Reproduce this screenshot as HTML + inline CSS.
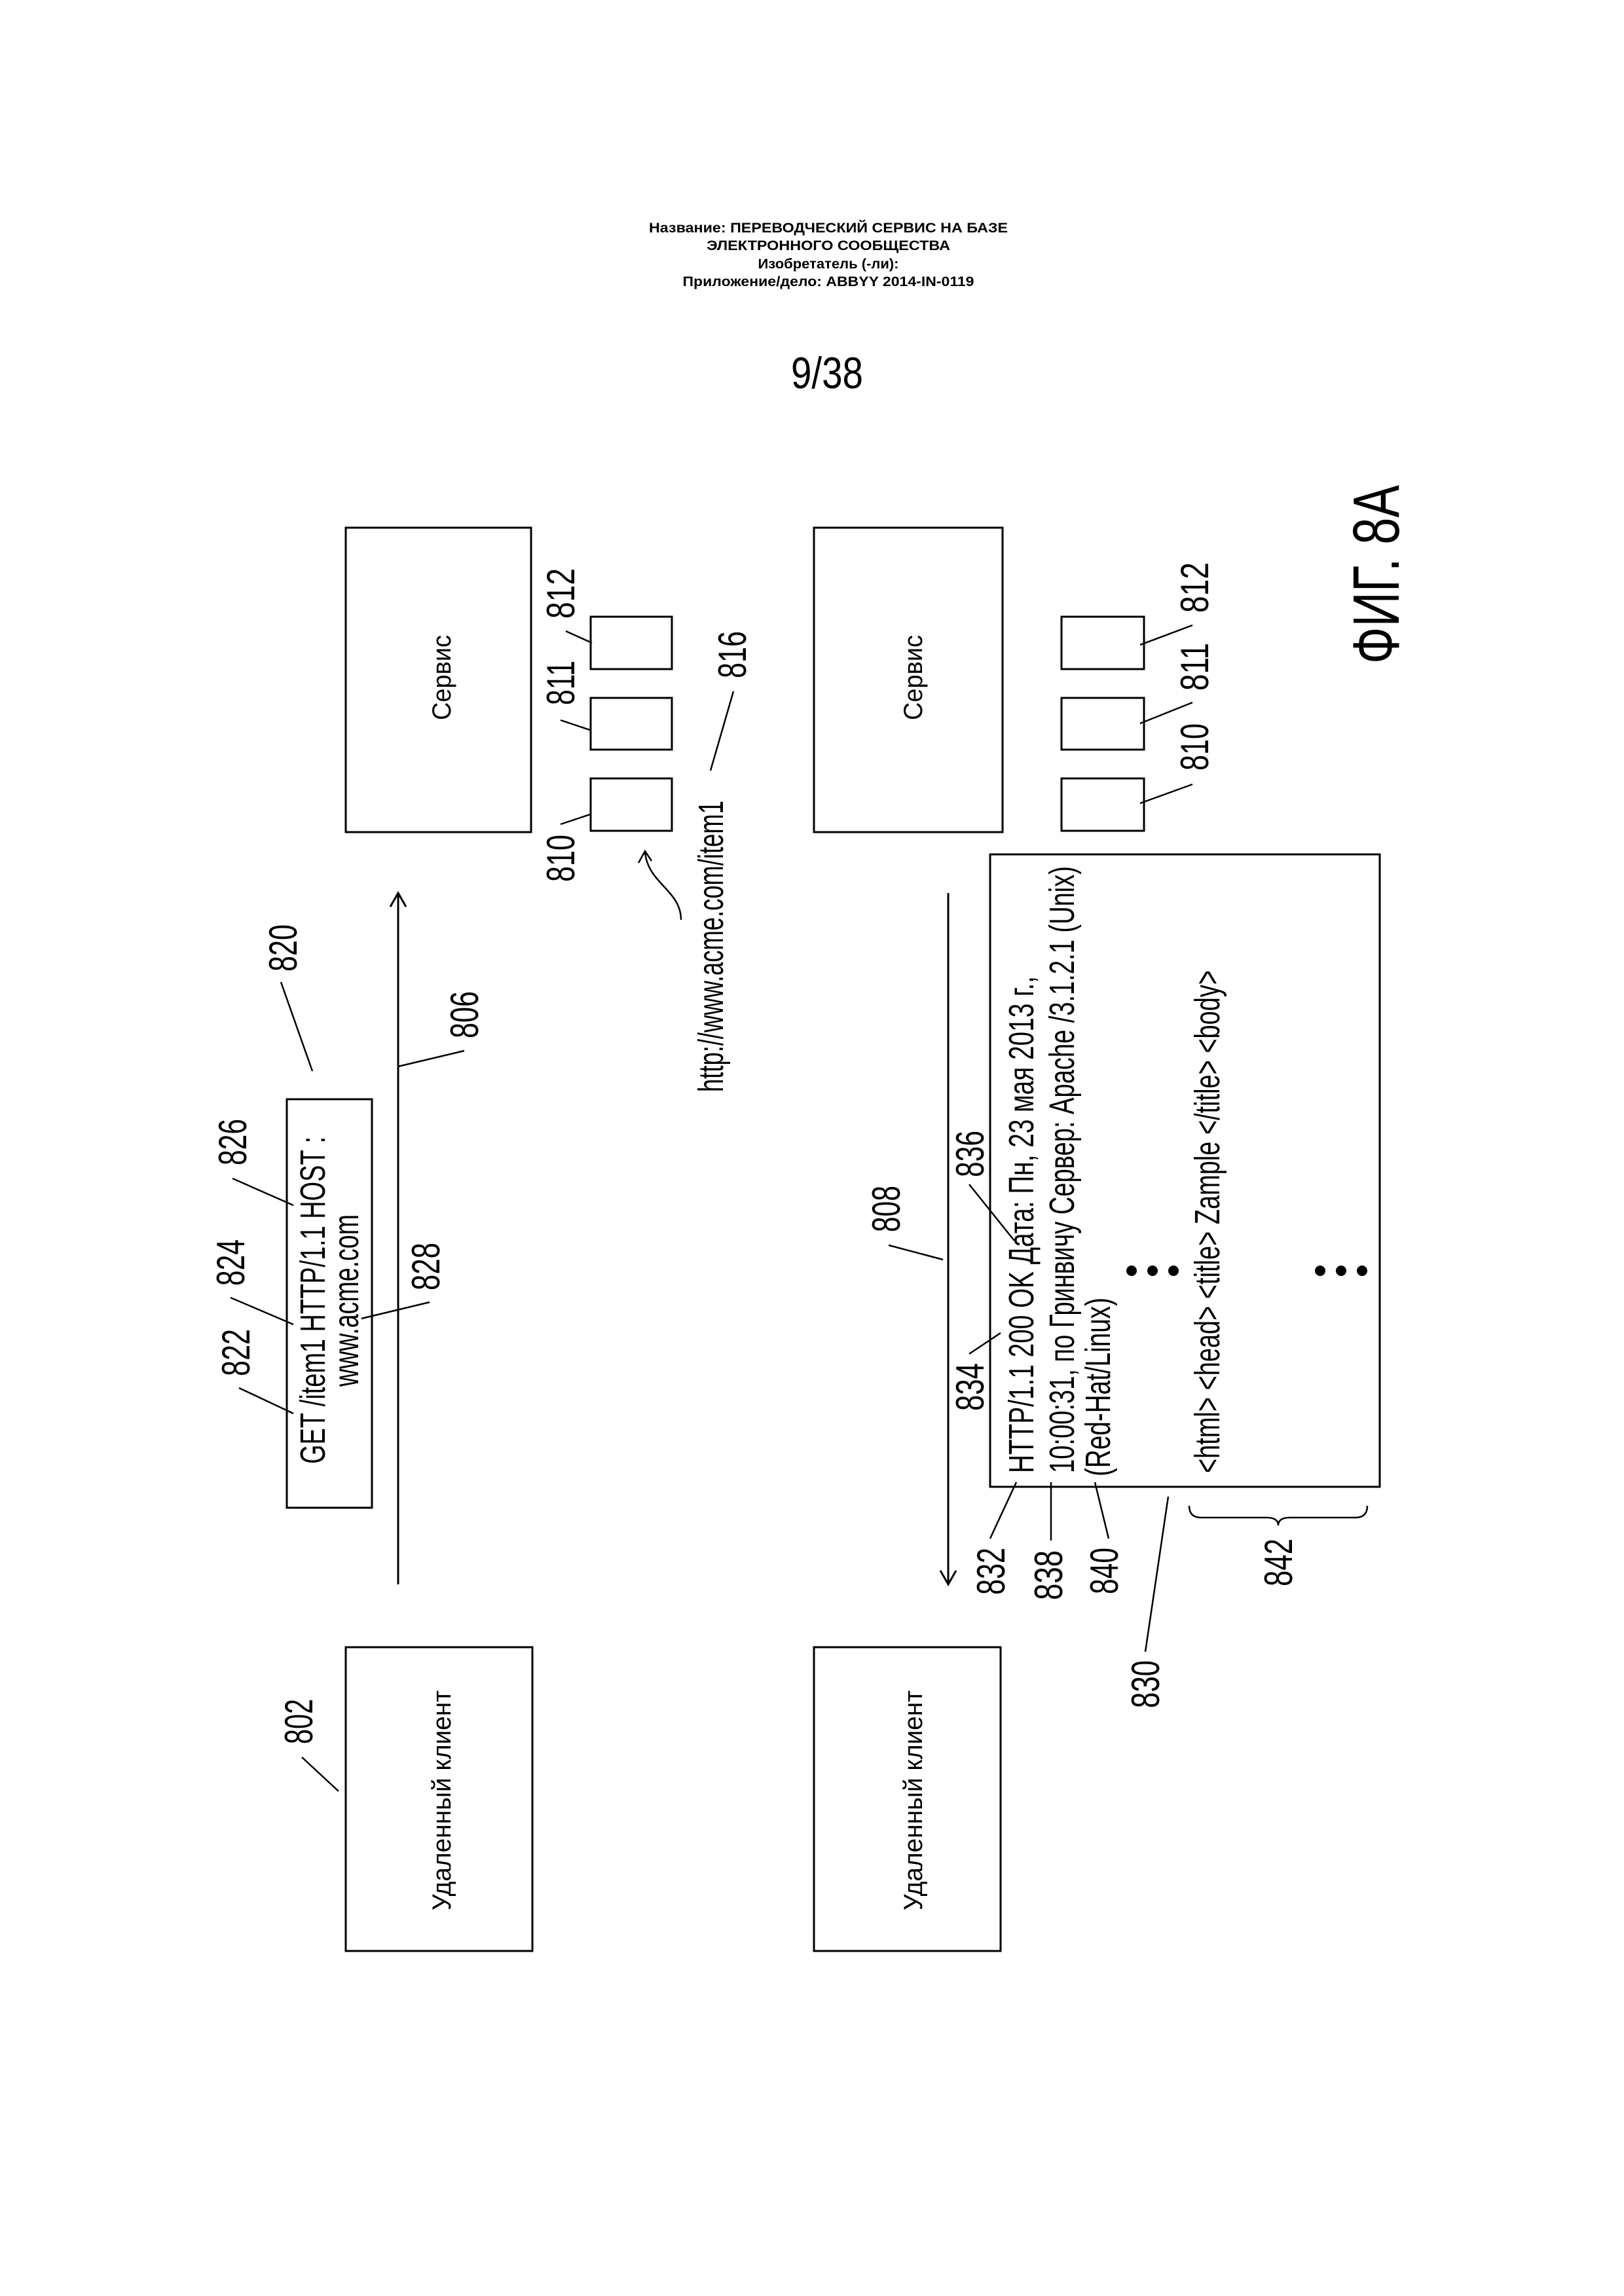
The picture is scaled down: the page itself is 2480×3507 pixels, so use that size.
<!DOCTYPE html>
<html><head><meta charset="utf-8"><style>html,body{margin:0;padding:0;background:#fff}svg{display:block}</style></head>
<body>
<svg width="2480" height="3507" viewBox="0 0 2480 3507" xmlns="http://www.w3.org/2000/svg" font-family="Liberation Sans, DejaVu Sans, sans-serif" fill="#000">
<g text-anchor="middle" font-weight="bold" font-size="21">
<text x="1265" y="355" textLength="548" lengthAdjust="spacingAndGlyphs">Название: ПЕРЕВОДЧЕСКИЙ СЕРВИС НА БАЗЕ</text>
<text x="1265" y="382" textLength="372" lengthAdjust="spacingAndGlyphs">ЭЛЕКТРОННОГО СООБЩЕСТВА</text>
<text x="1265" y="410" textLength="215" lengthAdjust="spacingAndGlyphs">Изобретатель (-ли):</text>
<text x="1265" y="437" textLength="445" lengthAdjust="spacingAndGlyphs">Приложение/дело: ABBYY 2014-IN-0119</text>
</g>
<text x="1263" y="593" text-anchor="middle" font-size="68" textLength="110" lengthAdjust="spacingAndGlyphs">9/38</text>

<g fill="none" stroke="#000" stroke-width="3">
<rect x="528" y="806" width="283" height="465"/>
<rect x="1243" y="806" width="288" height="465"/>
<rect x="902" y="942" width="124" height="80"/>
<rect x="902" y="1066" width="124" height="79"/>
<rect x="902" y="1189" width="124" height="80"/>
<rect x="1621" y="942" width="126" height="80"/>
<rect x="1621" y="1066" width="126" height="79"/>
<rect x="1621" y="1189" width="126" height="80"/>
<rect x="1512" y="1305" width="595" height="966"/>
<rect x="438" y="1679" width="130" height="624"/>
<rect x="528" y="2516" width="285" height="464"/>
<rect x="1243" y="2516" width="285" height="464"/>
<line x1="608" y1="1366" x2="608" y2="2420"/>
<path d="M596 1385 L608 1364 L620 1385"/>
<line x1="1448" y1="1364" x2="1448" y2="2418"/>
<path d="M1436 2399 L1448 2420 L1460 2399"/>
</g>
<g fill="none" stroke="#000" stroke-width="2.5">
<line x1="864" y1="964" x2="904" y2="982"/>
<line x1="856" y1="1100" x2="901" y2="1115"/>
<line x1="856" y1="1259" x2="901" y2="1244"/>
<line x1="1120" y1="1056" x2="1085" y2="1177"/>
<path d="M1040 1405 C1040 1360 990 1350 985 1302"/>
<path d="M975 1318 L985 1300 L995 1315"/>
<line x1="1821" y1="955" x2="1741" y2="985"/>
<line x1="1821" y1="1073" x2="1741" y2="1105"/>
<line x1="1821" y1="1198" x2="1741" y2="1227"/>
<line x1="429" y1="1500" x2="477" y2="1636"/>
<line x1="709" y1="1605" x2="608" y2="1629"/>
<line x1="355" y1="1800" x2="448" y2="1841"/>
<line x1="352" y1="1982" x2="448" y2="2023"/>
<line x1="365" y1="2120" x2="448" y2="2159"/>
<line x1="656" y1="1989" x2="552" y2="2014"/>
<line x1="1480" y1="2068" x2="1528" y2="2036"/>
<line x1="1480" y1="1809" x2="1549" y2="1895"/>
<line x1="1357" y1="1902" x2="1440" y2="1924"/>
<line x1="1512" y1="2350" x2="1552" y2="2264"/>
<line x1="1605" y1="2353" x2="1605" y2="2264"/>
<line x1="1693" y1="2350" x2="1672" y2="2264"/>
<line x1="1749" y1="2523" x2="1784" y2="2286"/>
<line x1="461" y1="2684" x2="517" y2="2736"/>
<path d="M1816 2300 Q1816 2318 1834 2318 L1934 2318 Q1952 2318 1952 2330 Q1952 2318 1970 2318 L2070 2318 Q2088 2318 2088 2300"/>
</g>
<g>
<circle cx="1728" cy="1941" r="8"/><circle cx="1760" cy="1941" r="8"/><circle cx="1792" cy="1941" r="8"/>
<circle cx="2016" cy="1941" r="8"/><circle cx="2048" cy="1941" r="8"/><circle cx="2080" cy="1941" r="8"/>
</g>

<g font-size="40">
<text transform="translate(688,1100) rotate(-90)" textLength="130" lengthAdjust="spacingAndGlyphs">Сервис</text>
<text transform="translate(1408,1100) rotate(-90)" textLength="130" lengthAdjust="spacingAndGlyphs">Сервис</text>
<text transform="translate(688,2918) rotate(-90)" textLength="336" lengthAdjust="spacingAndGlyphs">Удаленный клиент</text>
<text transform="translate(1408,2918) rotate(-90)" textLength="336" lengthAdjust="spacingAndGlyphs">Удаленный клиент</text>
</g>
<g font-size="60">
<text transform="translate(877,945) rotate(-90)" textLength="77" lengthAdjust="spacingAndGlyphs">812</text>
<text transform="translate(877,1077) rotate(-90)" textLength="68" lengthAdjust="spacingAndGlyphs">811</text>
<text transform="translate(877,1347) rotate(-90)" textLength="72" lengthAdjust="spacingAndGlyphs">810</text>
<text transform="translate(1139,1036) rotate(-90)" textLength="72" lengthAdjust="spacingAndGlyphs">816</text>
<text transform="translate(1845,936) rotate(-90)" textLength="77" lengthAdjust="spacingAndGlyphs">812</text>
<text transform="translate(1845,1055) rotate(-90)" textLength="73" lengthAdjust="spacingAndGlyphs">811</text>
<text transform="translate(1845,1177) rotate(-90)" textLength="72" lengthAdjust="spacingAndGlyphs">810</text>
<text transform="translate(453,1484) rotate(-90)" textLength="72" lengthAdjust="spacingAndGlyphs">820</text>
<text transform="translate(730,1586) rotate(-90)" textLength="72" lengthAdjust="spacingAndGlyphs">806</text>
<text transform="translate(376,1780) rotate(-90)" textLength="71" lengthAdjust="spacingAndGlyphs">826</text>
<text transform="translate(373,1964) rotate(-90)" textLength="71" lengthAdjust="spacingAndGlyphs">824</text>
<text transform="translate(381,2102) rotate(-90)" textLength="72" lengthAdjust="spacingAndGlyphs">822</text>
<text transform="translate(671,1971) rotate(-90)" textLength="73" lengthAdjust="spacingAndGlyphs">828</text>
<text transform="translate(1502,2155) rotate(-90)" textLength="73" lengthAdjust="spacingAndGlyphs">834</text>
<text transform="translate(1502,1798) rotate(-90)" textLength="71" lengthAdjust="spacingAndGlyphs">836</text>
<text transform="translate(1374,1882) rotate(-90)" textLength="71" lengthAdjust="spacingAndGlyphs">808</text>
<text transform="translate(1534,2436) rotate(-90)" textLength="72" lengthAdjust="spacingAndGlyphs">832</text>
<text transform="translate(1622,2444) rotate(-90)" textLength="76" lengthAdjust="spacingAndGlyphs">838</text>
<text transform="translate(1707,2435) rotate(-90)" textLength="71" lengthAdjust="spacingAndGlyphs">840</text>
<text transform="translate(1770,2609) rotate(-90)" textLength="73" lengthAdjust="spacingAndGlyphs">830</text>
<text transform="translate(1973,2423) rotate(-90)" textLength="73" lengthAdjust="spacingAndGlyphs">842</text>
<text transform="translate(477,2664) rotate(-90)" textLength="69" lengthAdjust="spacingAndGlyphs">802</text>
</g>
<g font-size="54">
<text transform="translate(1104,1668) rotate(-90)" textLength="445" lengthAdjust="spacingAndGlyphs">http://www.acme.com/item1</text>
<text transform="translate(496,2236) rotate(-90)" textLength="500" lengthAdjust="spacingAndGlyphs">GET /item1 HTTP/1.1 HOST :</text>
<text transform="translate(547,2118) rotate(-90)" textLength="263" lengthAdjust="spacingAndGlyphs">www.acme.com</text>
<text transform="translate(1578,2250) rotate(-90)" textLength="759" lengthAdjust="spacingAndGlyphs">HTTP/1.1 200 OK Дата:  Пн, 23 мая 2013 г.,</text>
<text transform="translate(1640,2250) rotate(-90)" textLength="927" lengthAdjust="spacingAndGlyphs">10:00:31, по Гринвичу Сервер: Apache /3.1.2.1 (Unix)</text>
<text transform="translate(1695,2255) rotate(-90)" textLength="273" lengthAdjust="spacingAndGlyphs">(Red-Hat/Linux)</text>
<text transform="translate(1862,2250) rotate(-90)" textLength="768" lengthAdjust="spacingAndGlyphs">&lt;html&gt; &lt;head&gt; &lt;title&gt; Zample &lt;/title&gt; &lt;body&gt;</text>
</g>
<text transform="translate(2136,1014) rotate(-90)" font-size="100" textLength="273" lengthAdjust="spacingAndGlyphs">ФИГ. 8А</text>
</svg>
</body></html>
